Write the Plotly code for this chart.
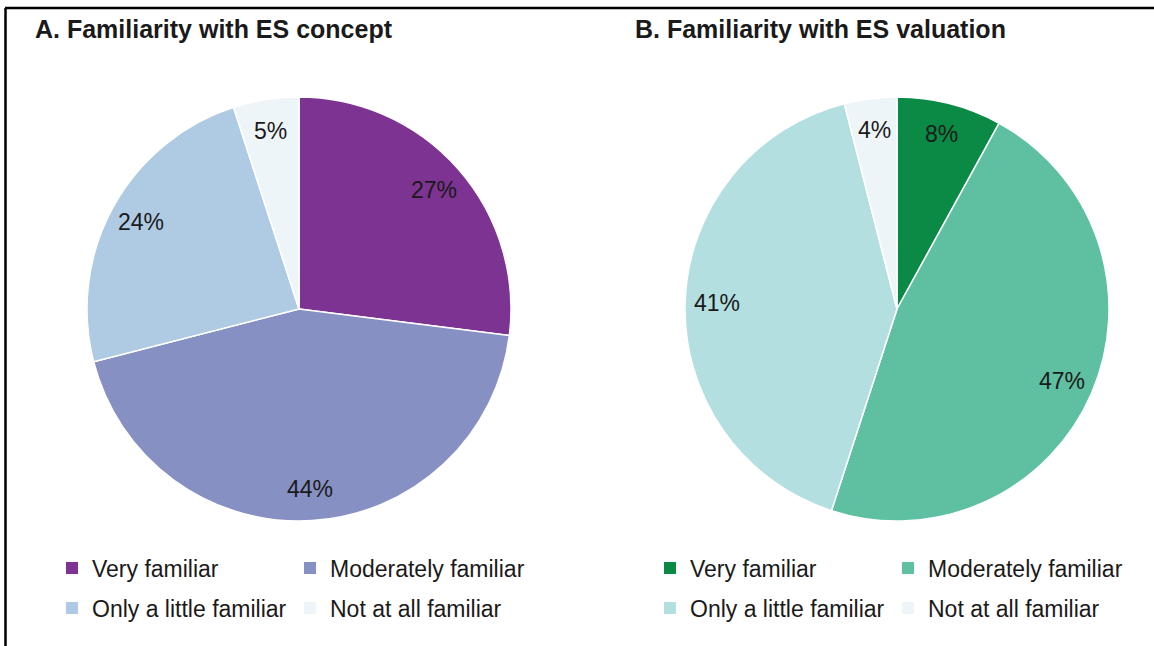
import math
import plotly.graph_objects as go

# ---------------- data ----------------
categories = ["Very familiar", "Moderately familiar", "Only a little familiar", "Not at all familiar"]
concept_values = [27, 44, 24, 5]
valuation_values = [8, 47, 41, 4]
concept_colors = ["#7D3391", "#8690C3", "#AFCAE3", "#EEF5F9"]
valuation_colors = ["#0A8A45", "#5EC0A1", "#B3DFE0", "#EEF5F8"]
titles = ["A. Familiarity with ES concept", "B. Familiarity with ES valuation"]

# ---------------- geometry (pixels) ----------------
W, H = 1154, 646
R = 212
centers = [(299, 309), (897, 309)]
LABEL_R = 0.85
FONT = "Liberation Sans, Arial, sans-serif"
TXT = "#1a1a1a"


def px(x):
    return x / W


def py(y):
    return 1 - y / H


fig = go.Figure()
annotations = []

for idx, (vals, cols) in enumerate([(concept_values, concept_colors), (valuation_values, valuation_colors)]):
    cx, cy = centers[idx]
    fig.add_trace(go.Pie(
        labels=categories, values=vals, sort=False, direction="clockwise", rotation=0,
        marker=dict(colors=cols, line=dict(color="white", width=1.5)),
        textinfo="none", hoverinfo="label+percent", showlegend=False,
        domain=dict(x=[px(cx - R), px(cx + R)], y=[py(cy + R), py(cy - R)]),
    ))
    # percentage labels placed at the slice mid-angle
    total = sum(vals)
    cum = 0
    for v in vals:
        mid = (cum + v / 2) / total * 2 * math.pi
        cum += v
        lx = cx + LABEL_R * R * math.sin(mid)
        ly = cy - LABEL_R * R * math.cos(mid)
        annotations.append(dict(
            x=px(lx), y=py(ly), xref="paper", yref="paper", showarrow=False,
            text=f"{round(v / total * 100)}%", font=dict(family=FONT, size=23, color=TXT),
            xanchor="center", yanchor="middle",
        ))

# titles
for t, tx in zip(titles, [33, 633]):
    annotations.append(dict(
        x=px(tx), y=py(29), xref="paper", yref="paper", showarrow=False,
        text=f"<b>{t}</b>", font=dict(family=FONT, size=25, color=TXT),
        xanchor="left", yanchor="middle",
    ))

# legends: one legend per row per panel
legend_names = ["legend", "legend2", "legend3", "legend4"]
legend_x = [52, 52, 650, 650]
legend_y = [568, 608, 568, 608]
for pi, cols in enumerate([concept_colors, valuation_colors]):
    for row in range(2):
        lg = legend_names[pi * 2 + row]
        for k in range(2):
            ci = row * 2 + k
            fig.add_trace(go.Scatter(
                x=[None], y=[None], mode="markers", name=categories[ci],
                marker=dict(symbol="square", size=12, color=cols[ci], line=dict(width=0)),
                legend=lg, showlegend=True, hoverinfo="skip",
            ))

legend_layout = {}
for i, lg in enumerate(legend_names):
    legend_layout[lg] = dict(
        x=px(legend_x[i]), y=py(legend_y[i]), xanchor="left", yanchor="middle",
        orientation="h", entrywidth=193, entrywidthmode="pixels",
        font=dict(family=FONT, size=23, color=TXT), bgcolor="rgba(0,0,0,0)",
        borderwidth=0, itemclick=False, itemdoubleclick=False,
    )

shapes = [
    dict(type="line", xref="paper", yref="paper", x0=px(5), x1=1, y0=py(8), y1=py(8),
         line=dict(color="black", width=2.5)),
    dict(type="line", xref="paper", yref="paper", x0=px(5.5), x1=px(5.5), y0=py(8), y1=0,
         line=dict(color="black", width=2.5)),
]

fig.update_layout(
    width=W, height=H, margin=dict(l=0, r=0, t=0, b=0),
    paper_bgcolor="white", plot_bgcolor="white",
    xaxis=dict(visible=False, range=[0, 1]), yaxis=dict(visible=False, range=[0, 1]),
    annotations=annotations, shapes=shapes, **legend_layout,
)

fig.write_html(
    "out.html",
    config={"displayModeBar": False},
    post_script="document.body.style.margin='0';document.body.style.overflow='hidden';",
)
